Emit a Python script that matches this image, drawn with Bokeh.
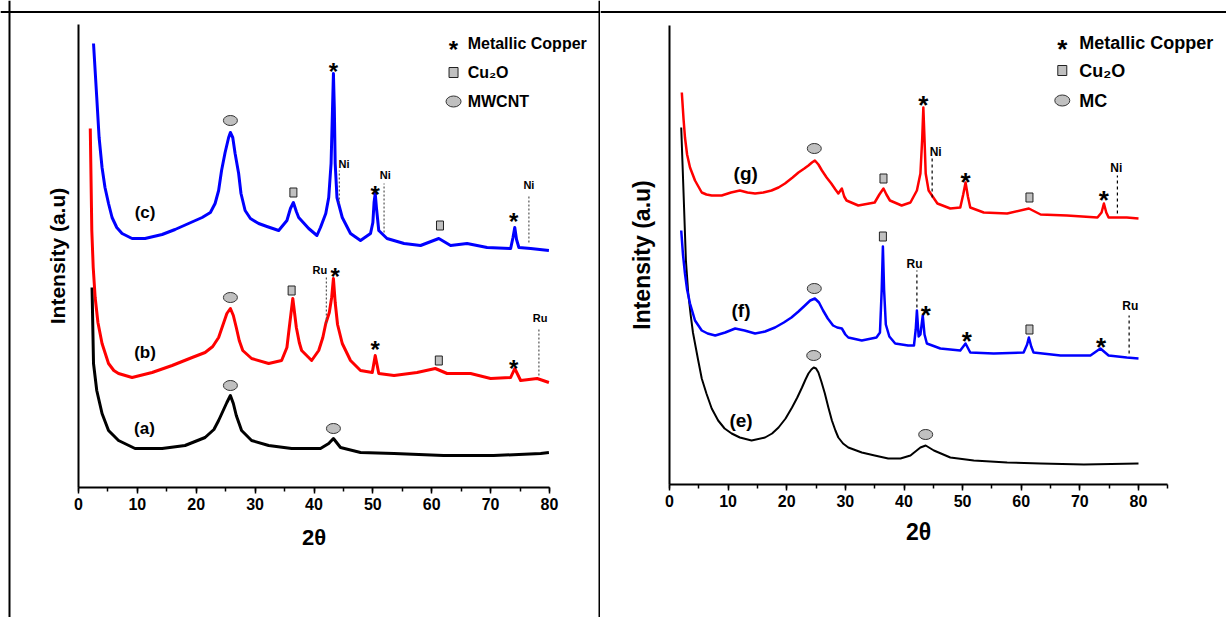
from bokeh.plotting import figure
from bokeh.models import LinearAxis, SingleIntervalTicker, FixedTicker, Span, Range1d
from bokeh.layouts import row
from bokeh.embed import file_html
from bokeh.resources import INLINE
from bokeh.core.properties import value

# ---------------- Left panel: MWCNT supports (2theta, intensity a.u.) ----------------
a_x = [2.3, 2.55, 3.1, 4.0, 5.1, 6.8, 9.6, 14.2, 18.1, 21.5, 23.0, 23.8, 24.5, 25.2, 25.8,
       26.3, 26.8, 27.7, 29.4, 32.3, 36.2, 41.1, 42.5, 43.3, 44.5, 47.9, 53.6, 62.0, 70.5,
       78.5, 79.9]
a_y = [200, 124, 97, 74, 57, 47, 39, 39, 42, 50, 58, 67, 76, 85, 92,
       84, 72, 57, 47, 42, 39, 39, 44, 49, 40, 35, 34, 32, 32,
       34, 35]

b_x = [2.0, 2.26, 2.5, 2.83, 3.3, 4.0, 5.1, 6.0, 6.8, 9.1, 12.5, 15.9, 19.3, 21.5, 22.8,
       23.8, 24.5, 25.2, 25.8, 26.3, 26.8, 27.3, 27.9, 29.4, 32.3, 34.5, 35.4, 35.8, 36.4,
       37.0, 37.5, 37.9, 39.6, 40.8, 41.5, 42.0, 42.6, 43.0, 43.3, 43.6, 44.0, 44.8, 46.2,
       47.9, 49.9, 50.4, 51.0, 53.6, 57.5, 60.6, 62.6, 66.6, 70.0, 73.4, 74.1, 75.1, 77.9,
       79.9]
b_y = [359, 257, 220, 190, 165, 144, 124, 117, 114, 110, 115, 122, 130, 135, 141,
       150, 162, 174, 179, 172, 160, 147, 137, 129, 124, 127, 140, 160, 189,
       160, 145, 137, 127, 137, 150, 164, 175, 190, 209, 185, 163, 144, 127,
       117, 115, 132, 114, 112, 115, 119, 114, 114, 109, 110, 119, 107, 109,
       105]

c_x = [2.55, 3.1, 3.5, 4.0, 4.5, 5.1, 5.7, 6.5, 7.4, 9.1, 11.3, 14.2, 16.4, 18.7, 21.0,
       22.4, 23.2, 23.8, 24.3, 24.9, 25.5, 25.8, 26.2, 26.6, 27.2, 27.6, 28.3, 29.2, 30.6,
       32.0, 34.0, 35.4, 36.0, 36.5, 37.0, 37.4, 39.1, 40.5, 41.1, 42.0, 42.5, 42.9, 43.15,
       43.3, 43.45, 43.6, 43.9, 44.8, 46.2, 47.9, 49.6, 50.0, 50.2, 50.4, 50.6, 51.0, 52.4,
       55.3, 58.1, 61.2, 63.2, 66.0, 69.4, 73.4, 73.8, 74.1, 74.4, 74.8, 76.8, 79.9]
c_y = [444, 390, 350, 320, 300, 284, 270, 260, 254, 249, 249, 253, 258, 264, 270,
       275, 284, 297, 317, 335, 350, 355, 350, 334, 314, 294, 277, 269, 264,
       261, 257, 267, 279, 285, 276, 270, 259, 252, 260, 274, 290, 324, 380,
       414, 380, 324, 290, 270, 254, 247, 254, 265, 285, 294, 280, 257, 249,
       244, 242, 249, 242, 244, 240, 239, 250, 260, 248, 240, 239, 237]

# ---------------- Right panel: MC supports ----------------
e_x = [2.0, 2.4, 2.8, 3.2, 3.6, 4.0, 4.9, 5.5, 6.3, 7.2, 8.3, 9.4, 10.6, 12.0, 14.0,
       16.3, 17.5, 18.6, 19.8, 20.9, 21.8, 22.6, 23.2, 23.7, 24.2, 24.6, 25.0, 25.4, 25.9,
       26.5, 27.1, 27.7, 28.3, 28.8, 29.6, 30.5, 32.8, 35.0, 37.3, 39.4, 41.1, 42.8, 43.7,
       45.1, 47.9, 51.9, 57.6, 63.3, 70.7, 80.0]
e_y = [357, 291, 224, 191, 170, 152, 124, 106, 91, 76, 64, 56, 51, 47, 44,
       47, 51, 57, 66, 77, 87, 97, 105, 111, 115, 117, 116, 112, 103,
       91, 77, 64, 54, 47, 41, 37, 32, 29, 26, 26, 29, 37, 39,
       34, 27, 24, 22, 21, 20, 21]

f_x = [2.0, 2.3, 2.64, 3.0, 3.5, 4.35, 5.5, 6.5, 7.8, 9.5, 11.2, 12.8, 14.6, 16.3, 18.0,
       19.5, 20.8, 22.0, 23.1, 24.0, 24.8, 25.5, 26.2, 27.0, 27.9, 28.6, 29.4, 30.0, 30.5,
       32.8, 35.3, 35.9, 36.2, 36.4, 36.6, 36.9, 37.5, 38.5, 40.7, 41.7, 42.0, 42.2, 42.5,
       42.8, 43.2, 43.5, 43.9, 46.2, 49.6, 50.5, 51.3, 55.3, 60.4, 61.0, 61.3, 61.7, 62.1,
       66.7, 71.8, 73.5, 74.9, 78.0, 80.0]
f_y = [254, 230, 211, 195, 181, 164, 154, 151, 149, 152, 156, 154, 151, 153, 157,
       162, 167, 173, 179, 184, 186, 182, 174, 166, 159, 157, 156, 150, 147,
       144, 147, 152, 195, 238, 195, 160, 148, 141, 139, 139, 155, 174, 148,
       150, 169, 150, 141, 136, 134, 141, 132, 131, 132, 140, 147, 138, 132,
       129, 129, 136, 129, 127, 126]

g_x = [2.1, 2.4, 2.64, 3.0, 3.5, 4.35, 5.5, 6.3, 7.2, 8.9, 10.5, 12.0, 13.3, 14.6, 16.0,
       17.4, 18.6, 19.7, 21.0, 22.0, 23.0, 23.7, 24.3, 24.8, 25.4, 26.0, 26.8, 27.6, 28.3,
       28.8, 29.4, 29.8, 30.2, 32.2, 35.0, 35.8, 36.5, 37.0, 37.6, 39.6, 41.1, 42.2, 42.8,
       43.1, 43.3, 43.5, 43.7, 44.2, 45.7, 47.9, 49.6, 50.1, 50.5, 50.9, 51.3, 53.6, 57.6,
       61.3, 63.3, 67.8, 73.0, 73.7, 74.1, 74.5, 74.9, 78.0, 80.0]
g_y = [392, 365, 347, 330, 317, 304, 292, 290, 289, 289, 292, 294, 292, 291, 292,
       294, 297, 301, 307, 312, 316, 319, 322, 324, 320, 314, 307, 301, 295,
       291, 296, 288, 284, 279, 282, 290, 296, 290, 284, 279, 282, 294, 311,
       345, 377, 345, 311, 294, 281, 276, 277, 290, 302, 288, 277, 272, 271,
       276, 270, 269, 267, 272, 281, 272, 267, 267, 266]

# ---------------- Annotations ----------------
lab_left = ["(c)", "(b)", "(a)"]
lab_left_x = [11.3, 11.3, 11.2]
lab_left_y = [275, 135, 59]
ell_left_x = [25.8, 25.8, 25.8, 43.3]
ell_left_y = [367, 190, 102, 59]
sq_left_x = [36.5, 61.4, 36.2, 61.2]
sq_left_y = [295, 262, 197, 127]
star_left_x = [43.3, 50.4, 73.9, 43.6, 50.4, 73.9]
star_left_y = [422, 299, 272, 217, 144, 125]
ni_left_tx = [45.1, 52.1, 76.5]
ni_left_ty = [324, 313, 303]
ni_left_lx = [44.3, 51.9, 76.5]
ni_left_y0 = [284, 255, 245]
ni_left_y1 = [317, 304, 292]
ru_left_tx = [41.0, 78.4]
ru_left_ty = [218, 170]
ru_left_lx = [42.1, 78.2]
ru_left_y0 = [164, 112]
ru_left_y1 = [210, 160]

lab_right = ["(g)", "(f)", "(e)"]
lab_right_x = [13.0, 12.2, 12.2]
lab_right_y = [311, 174, 64]
ell_right_x = [24.7, 24.7, 24.6, 43.7]
ell_right_y = [336, 196, 129, 50]
sq_right_x = [36.5, 61.4, 36.4, 61.4]
sq_right_y = [306, 287, 248, 155]
star_right_x = [43.3, 50.5, 74.1, 43.7, 50.7, 73.6]
star_right_y = [386, 309, 291, 176, 150, 144]
ni_right_tx = [45.4, 76.2]
ni_right_ty = [333, 317]
ni_right_lx = [44.8, 76.4]
ni_right_y0 = [287, 271]
ni_right_y1 = [327, 309]
ru_right_tx = [41.8, 78.6]
ru_right_ty = [221, 179]
ru_right_lx = [42.2, 78.4]
ru_right_y0 = [177, 131]
ru_right_y1 = [214, 169]

legend_left = ["Metallic Copper", "Cu\u2082O", "MWCNT"]
legend_right = ["Metallic Copper", "Cu\u2082O", "MC"]

FONT_NAME = "Liberation Sans"
FONT = value(FONT_NAME)
GRAY = "#c0c0c0"
H = 617


def make_panel(width, x0_px, px_per_unit, axis_px, xmax_axis, ytop, curves, ann, leg, sizes):
    x_start = -x0_px / px_per_unit
    x_end = x_start + width / px_per_unit
    y_start = -(H - axis_px)
    y_end = axis_px
    p = figure(width=width, height=H, output_backend="svg", toolbar_location=None,
               x_range=Range1d(x_start, x_end), y_range=Range1d(y_start, y_end),
               x_axis_location=None, y_axis_location=None, min_border=0,
               background_fill_color="white", border_fill_color="white")
    p.outline_line_color = None
    p.grid.visible = False

    xa = LinearAxis(fixed_location=0, bounds=(0, xmax_axis),
                    ticker=SingleIntervalTicker(interval=10, num_minor_ticks=2),
                    axis_label="2\u03b8")
    xa.axis_line_width = 2
    xa.major_tick_in = 0
    xa.major_tick_out = 6
    xa.minor_tick_in = 0
    xa.minor_tick_out = 4
    xa.major_tick_line_width = 1.5
    xa.minor_tick_line_width = 1.5
    xa.major_label_text_font = FONT_NAME
    xa.major_label_text_font_style = "bold"
    xa.major_label_text_font_size = "16px"
    xa.major_label_text_color = "black"
    xa.major_label_standoff = 4
    xa.axis_label_text_font = FONT_NAME
    xa.axis_label_text_font_style = "bold"
    xa.axis_label_text_font_size = sizes["xlab"]
    xa.axis_label_text_color = "black"
    xa.axis_label_standoff = sizes["xstand"]
    p.add_layout(xa, "below")

    ya = LinearAxis(fixed_location=0, bounds=(0, ytop), ticker=FixedTicker(ticks=[]),
                    axis_label="Intensity (a.u)")
    ya.axis_line_width = 2
    ya.major_tick_out = 0
    ya.major_tick_in = 0
    ya.minor_tick_out = 0
    ya.minor_tick_in = 0
    ya.major_label_text_font_size = "0px"
    ya.axis_label_text_font = FONT_NAME
    ya.axis_label_text_font_style = "bold"
    ya.axis_label_text_font_size = sizes["ylab"]
    ya.axis_label_text_color = "black"
    ya.axis_label_standoff = sizes["ystand"]
    p.add_layout(ya, "left")

    for xs, ys, col, lw in curves:
        p.line(xs, ys, line_color=col, line_width=lw, line_join="round")

    for tx, ty, lx, y0, y1, name, dash, dcol in ann["refs"]:
        p.segment(x0=lx, y0=y0, x1=lx, y1=y1, line_color=dcol, line_width=1.2, line_dash=dash)
        p.text(x=tx, y=ty, text=[name] * len(tx), text_font=FONT, text_font_style="bold",
               text_font_size=sizes["elem"], text_align="center", text_baseline="middle")

    labs, lx, ly = ann["labels"]
    p.text(x=lx, y=ly, text=labs, text_font=FONT, text_font_style="bold",
           text_font_size=sizes["lab"], text_align="center", text_baseline="middle")

    ex, ey = ann["ell"]
    p.ellipse(x=ex, y=ey, width=14, height=10, width_units="screen", height_units="screen",
              fill_color=GRAY, line_color="#333333", line_width=1)
    sx, sy = ann["sq"]
    p.rect(x=sx, y=sy, width=7, height=9, width_units="screen", height_units="screen",
           fill_color=GRAY, line_color="#222222", line_width=1)
    stx, sty = ann["star"]
    p.text(x=stx, y=sty, text=["*"] * len(stx), text_font=FONT, text_font_style="bold",
           text_font_size=sizes["star"], text_align="center", text_baseline="middle",
           y_offset=sizes["star_off"])

    lgx, lgy, ltx, names = leg
    p.text(x=[lgx], y=[lgy[0]], text=["*"], text_font=FONT, text_font_style="bold",
           text_font_size=sizes["star"], text_align="center", text_baseline="middle",
           y_offset=sizes["star_off"])
    p.rect(x=[lgx], y=[lgy[1]], width=9, height=10, width_units="screen", height_units="screen",
           fill_color=GRAY, line_color="#222222", line_width=1)
    p.ellipse(x=[lgx], y=[lgy[2]], width=15, height=11, width_units="screen",
              height_units="screen", fill_color=GRAY, line_color="#333333", line_width=1)
    p.text(x=[ltx] * 3, y=lgy, text=names, text_font=FONT, text_font_style="bold",
           text_font_size=sizes["leg"], text_align="left", text_baseline="middle")
    return p, (x_start, px_per_unit, axis_px)


left_curves = [(a_x, a_y, "black", 3), (b_x, b_y, "#ff0000", 3), (c_x, c_y, "#0000ff", 3)]
left_ann = {
    "refs": [(ni_left_tx, ni_left_ty, ni_left_lx, ni_left_y0, ni_left_y1, "Ni", "2 2", "#555555"),
             (ru_left_tx, ru_left_ty, ru_left_lx, ru_left_y0, ru_left_y1, "Ru", "2 2", "#555555")],
    "labels": (lab_left, lab_left_x, lab_left_y),
    "ell": (ell_left_x, ell_left_y),
    "sq": (sq_left_x, sq_left_y),
    "star": (star_left_x, star_left_y),
}
left_sizes = {"xlab": "22px", "xstand": 12, "ylab": "21px", "ystand": 10, "elem": "11px",
              "lab": "17px", "star": "24px", "star_off": 6, "leg": "16px"}
p1, geo1 = make_panel(600, 78, 5.8875, 487, 80, 463, left_curves, left_ann,
                      (63.7, [444, 415, 386], 66.1, legend_left), left_sizes)

right_curves = [(e_x, e_y, "black", 2), (f_x, f_y, "#0000ff", 2.5), (g_x, g_y, "#ff0000", 2.5)]
right_ann = {
    "refs": [(ni_right_tx, ni_right_ty, ni_right_lx, ni_right_y0, ni_right_y1, "Ni", "3 3", "black"),
             (ru_right_tx, ru_right_ty, ru_right_lx, ru_right_y0, ru_right_y1, "Ru", "3 3", "black")],
    "labels": (lab_right, lab_right_x, lab_right_y),
    "ell": (ell_right_x, ell_right_y),
    "sq": (sq_right_x, sq_right_y),
    "star": (star_right_x, star_right_y),
}
right_sizes = {"xlab": "23px", "xstand": 9, "ylab": "23px", "ystand": 15, "elem": "12px",
               "lab": "19px", "star": "26px", "star_off": 6, "leg": "18px"}
p2, geo2 = make_panel(626, 69, 5.8625, 484, 85, 459, right_curves, right_ann,
                      (67.0, [442, 414, 384], 69.9, legend_right), right_sizes)


def px_x(geo, px):
    return geo[0] + px / geo[1]


def px_y(geo, px):
    return geo[2] - px


p1.add_layout(Span(location=px_y(geo1, 11.5), dimension="width", line_color="black", line_width=2))
p1.add_layout(Span(location=px_x(geo1, 9.0), dimension="height", line_color="black", line_width=2))
p1.add_layout(Span(location=px_x(geo1, 599.0), dimension="height", line_color="black", line_width=2))
p2.add_layout(Span(location=px_y(geo2, 11.5), dimension="width", line_color="black", line_width=2))

layout = row(p1, p2)
open("out.html", "w").write(file_html(layout, INLINE))
